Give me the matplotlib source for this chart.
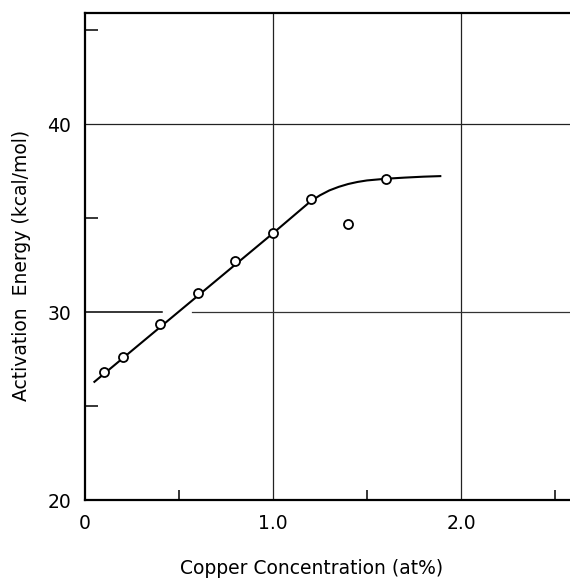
import matplotlib
matplotlib.use("Agg")
import matplotlib.pyplot as plt

# Data
cu_conc = [0.1, 0.2, 0.4, 0.6, 0.8, 1.0, 1.2, 1.4, 1.6]
act_energy = [26.8, 27.6, 29.4, 31.0, 32.7, 34.2, 36.0, 34.7, 37.1]

curve_x = [0.05, 1.0, 1.1, 1.2, 1.25, 1.3, 1.35, 1.4, 1.45, 1.5, 1.6, 1.7, 1.8, 1.89]
curve_y = [26.3, 34.2, 35.05, 35.9, 36.22, 36.48, 36.67, 36.82, 36.93, 37.01, 37.1, 37.16, 37.21, 37.24]

x_major = [0, 1.0, 2.0]
x_major_labels = ["0", "1.0", "2.0"]
x_minor = [0.5, 1.5, 2.5]
y_major = [20, 30, 40]
y_minor = [25, 35, 45]

plt.rcParams['font.family'] = ['DejaVu Sans']

fig = plt.figure(figsize=(5.70, 5.79), dpi=100)
ax = fig.add_axes([85/570, 78.7/579, (570-85)/570, (500.3-12.7)/579])
ax.set_xlim(0, 2.58)
ax.set_ylim(20, 45.93)

# grid lines
for xv in x_major[1:]:
    ax.axvline(xv, color='#222222', lw=0.9, zorder=1)
ax.axhline(y_major[2], color='#222222', lw=0.9, zorder=1)
ax.plot([0, 0.408], [y_major[1], y_major[1]], color='black', lw=1.1, zorder=1)
ax.plot([0.567, 2.58], [y_major[1], y_major[1]], color='#333333', lw=0.9, zorder=1)

# curve and points
ax.plot(curve_x, curve_y, color='black', lw=1.5, zorder=2)
ax.plot(cu_conc, act_energy, linestyle='none', marker='o', ms=6.5,
        mfc='white', mec='black', mew=1.3, zorder=3)

# spines
ax.spines['right'].set_visible(False)
for s in ['left', 'bottom', 'top']:
    ax.spines[s].set_linewidth(1.6)

ax.set_xticks(x_major)
ax.set_xticklabels(x_major_labels)
ax.set_xticks(x_minor, minor=True)
ax.set_yticks(y_major)
ax.set_yticks(y_minor, minor=True)
ax.tick_params(axis='both', which='major', length=0, labelsize=13.5, pad=10)
ax.tick_params(axis='y', which='minor', direction='in', length=9, width=1.1)
ax.tick_params(axis='x', which='minor', direction='in', length=7.5, width=1.1)

fig.text(312/570, 1 - 568/579, "Copper Concentration (at%)", ha='center', va='center', fontsize=13.5)
fig.text(21.7/570, 1 - 265/579, "Activation  Energy (kcal/mol)", ha='center', va='center',
         rotation=90, fontsize=13.5)

fig.savefig("out.png", dpi=100)
